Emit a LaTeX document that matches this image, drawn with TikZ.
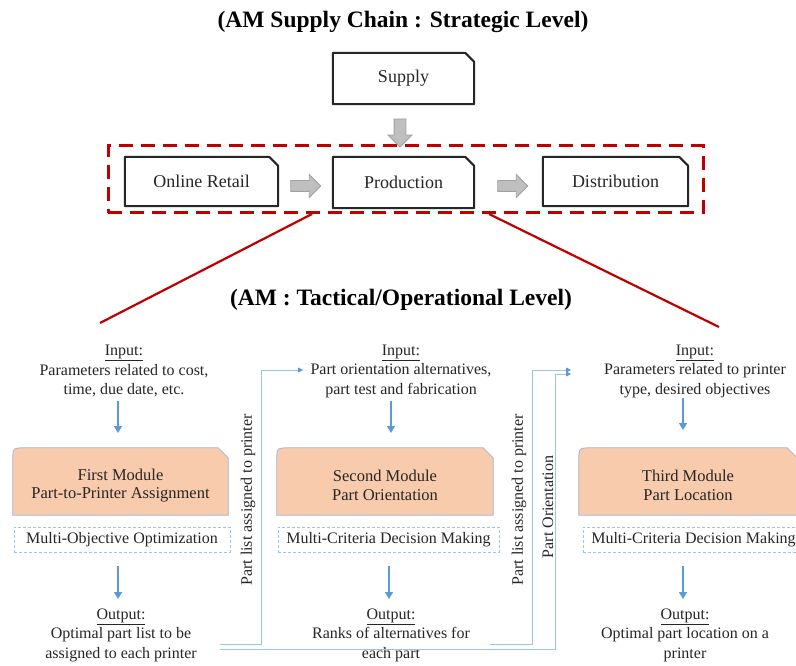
\documentclass[tikz,border=0pt]{standalone}
\usepackage{fontspec}
\setmainfont{Liberation Serif}
\usetikzlibrary{arrows.meta,shapes.arrows,calc}
\definecolor{redd}{HTML}{C00000}
\definecolor{peach}{HTML}{F8CBAD}
\definecolor{edgeb}{HTML}{9DB5D6}
\definecolor{lblue}{HTML}{9DC3E6}
\definecolor{mblue}{HTML}{5B9BD5}
\definecolor{garrow}{HTML}{BFBFBF}
\definecolor{garrowd}{HTML}{A0A0A0}
\definecolor{txt}{HTML}{262626}
\begin{document}
\begin{tikzpicture}[x=1pt,y=-1pt,
 every node/.style={text=txt, font=\fontsize{16}{19.5}\selectfont, inner sep=0pt},
 titlenode/.style={font=\fontsize{23.5}{26}\selectfont\bfseries, text=black},
 topbox/.style={font=\fontsize{18}{20}\selectfont, text=black!85},
 topframe/.style={draw=black!85, line width=2pt, line join=round},
 blk/.style={single arrow, draw=garrowd, fill=garrow, line width=0.8pt, inner sep=5.5pt, minimum height=#1, single arrow head extend=6pt, single arrow head indent=0pt},
 modframe/.style={draw=edgeb, fill=peach, line width=0.8pt},
 modtext/.style={align=center, font=\fontsize{16.5}{18.5}\selectfont},
 dbox/.style={draw=lblue, dash pattern=on 3pt off 2pt, line width=0.9pt, minimum height=25pt},
 barrow/.style={draw=mblue, line width=1.6pt, -{Triangle[length=7pt,width=8pt]}},
 conn/.style={draw=lblue, line width=0.9pt, -{Triangle[length=5pt,width=5pt,color=mblue]}},
 redline/.style={draw=redd, line width=2.2pt}
]
\clip (0,0) rectangle (796,666);
\fill[white] (0,0) rectangle (796,666);

% titles
\node[titlenode] (t1) at (403,22) {(AM Supply Chain : Strategic Level)};
\node[titlenode] (t2) at (401,300) {(AM : Tactical/Operational Level)};

% strategic boxes
\node[topbox, minimum width=141pt, minimum height=51pt] (supply) at (403.5,78.5) {Supply};
\node[topbox, minimum width=153pt, minimum height=49pt] (online) at (201.5,181.5) {Online Retail};
\node[topbox, minimum width=141pt, minimum height=51pt] (prod) at (403.5,182.5) {Production};
\node[topbox, minimum width=145pt, minimum height=49pt] (dist) at (615.5,181.5) {Distribution};
\foreach \n in {supply,online,prod,dist}
  \draw[topframe] (\n.south west) -- (\n.north west) -- ([xshift=-9pt]\n.north east) -- ([yshift=-9pt]\n.north east) -- (\n.south east) -- cycle;

% red dashed frame
\node[draw=redd, line width=3pt, dash pattern=on 14pt off 8pt, minimum width=595pt, minimum height=67pt] (frame) at (405.5,179.5) {};

% gray block arrows
\node[blk=28pt, rotate=-90] (g0) at (400,130) {};
\node[blk=30pt, inner sep=5pt] (g1) at (303,186) {};
\node[blk=30pt, inner sep=5pt] (g2) at (510,186) {};

% red lines
\coordinate (r1a) at (312,214);
\coordinate (r1b) at (100,323);
\coordinate (r2a) at (489,214);
\coordinate (r2b) at (719,327);
\draw[redline] (r1a) -- (r1b);
\draw[redline] (r2a) -- (r2b);

% inputs
\node[align=center] (in1) at (124,371) {\underline{Input:}\\Parameters related to cost,\\time, due date, etc.};
\node[align=center] (in2) at (401,371) {\underline{Input:}\\Part orientation alternatives,\\part test and fabrication};
\node[align=center] (in3) at (695,371) {\underline{Input:}\\Parameters related to printer\\type, desired objectives};

% module frames
\node[minimum width=215pt, minimum height=67pt] (m1) at (120.5,481.5) {};
\node[minimum width=216pt, minimum height=67pt] (m2) at (385,481.5) {};
\node[minimum width=218pt, minimum height=67pt] (m3) at (688,481.5) {};
\foreach \n in {m1,m2,m3}
  \draw[modframe] (\n.south west) -- ([yshift=-13pt]\n.north west) .. controls (\n.north west) .. ([xshift=13pt]\n.north west) -- ([xshift=-10pt]\n.north east) -- ([yshift=-10pt]\n.north east) -- (\n.south east) -- cycle;
\node[modtext] (m1t) at ([yshift=-4pt]m1.center) {First Module\\Part-to-Printer Assignment};
\node[modtext] (m2t) at ([yshift=-4pt]m2.center) {Second Module\\Part Orientation};
\node[modtext] (m3t) at ([yshift=-4pt]m3.center) {Third Module\\Part Location};

% dashed method boxes
\node[dbox, minimum width=216pt] (d1) at (122,539.5) {Multi-Objective Optimization};
\node[dbox, minimum width=221pt] (d2) at (388.5,539.5) {Multi-Criteria Decision Making};
\node[dbox, minimum width=221pt] (d3) at (693.5,539.5) {Multi-Criteria Decision Making};

% outputs
\node[align=center] (out1) at (121,635) {\underline{Output:}\\Optimal part list to be\\assigned to each printer};
\node[align=center] (out2) at (391,635) {\underline{Output:}\\Ranks of alternatives for\\each part};
\node[align=center] (out3) at (685,635) {\underline{Output:}\\Optimal part location on a\\printer};

% blue down arrows
\coordinate (a1s) at (118,401); \coordinate (a1e) at (118,433);
\coordinate (a2s) at (391,401); \coordinate (a2e) at (391,433);
\coordinate (a3s) at (683,398); \coordinate (a3e) at (683,430);
\coordinate (b1s) at (118,566); \coordinate (b1e) at (118,599);
\coordinate (b2s) at (389,566); \coordinate (b2e) at (389,599);
\coordinate (b3s) at (683,566); \coordinate (b3e) at (683,599);
\foreach \s/\e in {a1s/a1e,a2s/a2e,a3s/a3e,b1s/b1e,b2s/b2e,b3s/b3e}
  \draw[barrow] (\s) -- (\e);

% feed-forward connectors
\coordinate (c1a) at (220,644); \coordinate (c1b) at (261,370); \coordinate (c1e) at (303,370);
\coordinate (c2a) at (220,649); \coordinate (c2b) at (555,374); \coordinate (c2e) at (571,374);
\coordinate (c3a) at (490,644); \coordinate (c3b) at (532,370); \coordinate (c3e) at (571,370);
\draw[conn] (c1a) -| (c1b) -- (c1e);
\draw[conn] (c2a) -| (c2b) -- (c2e);
\draw[conn] (c3a) -| (c3b) -- (c3e);

\node[rotate=90] (v1) at (248,500) {Part list assigned to printer};
\node[rotate=90] (v2) at (519,500) {Part list assigned to printer};
\node[rotate=90] (v3) at (548,507) {Part Orientation};
\end{tikzpicture}
\end{document}
